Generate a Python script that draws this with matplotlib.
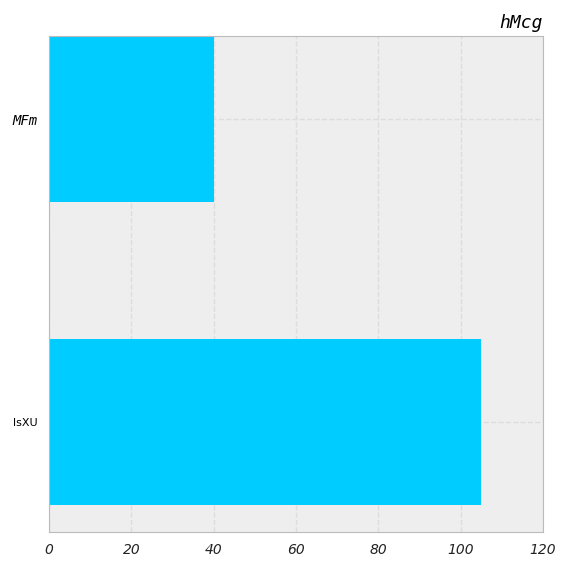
import matplotlib.pyplot as plt

categories = ["lsXU", "MFm"]
values = [105, 40]
xticks = [0, 20, 40, 60, 80, 100, 120]

fig = plt.figure(figsize=(5.68, 5.68), dpi=100)
ax = fig.add_axes([49/568, 36/568, 494/568, 496/568])
ax.set_facecolor("#eeeeee")
ax.barh([0, 1], values, height=0.548, color="#00ccff", zorder=2)
ax.set_xlim(0, 120)
ax.set_ylim(-0.363, 1.274)
ax.set_xticks(xticks)
ax.set_xticklabels([str(t) for t in xticks], fontstyle="italic", fontsize=10, color="#222222")
ax.set_yticks([0, 1])
ax.set_yticklabels(categories)
lbl = ax.get_yticklabels()
lbl[0].set_fontsize(8)
lbl[1].set_fontfamily("DejaVu Sans Mono")
lbl[1].set_fontstyle("italic")
lbl[1].set_fontsize(10)
ax.tick_params(length=0, pad=8)
ax.grid(True, linestyle="--", color="#dddddd", linewidth=1, zorder=0)
ax.set_axisbelow(True)
for s in ax.spines.values():
    s.set_color("#bbbbbb")
ax.set_title("hMcg", loc="right", fontfamily="DejaVu Sans Mono", fontstyle="italic", fontsize=13, pad=6)
fig.savefig("out.png", dpi=100)
